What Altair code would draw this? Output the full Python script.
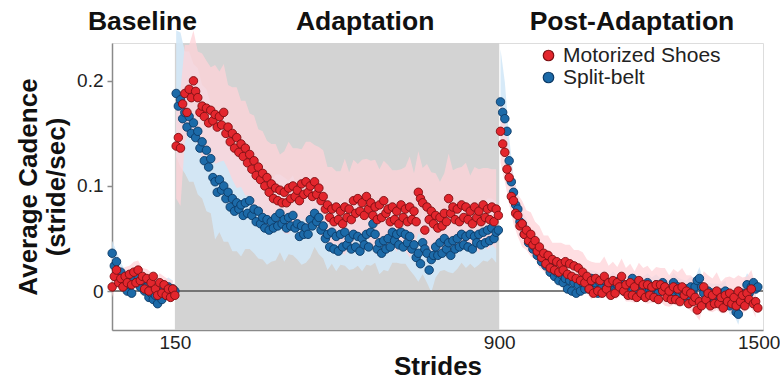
import altair as alt
import pandas as pd

FONT = "Liberation Sans"

# ---------------- data ----------------
series_names = ["Motorized Shoes", "Split-belt"]
fill_colors = ["#e3262d", "#1c6aa8"]
stroke_colors = ["#7d0f12", "#0c3a66"]
band_colors = ["#ffd3d8", "#d3e8f7"]

base_strides = list(range(5, 151, 5))      # 30 samples
adapt_strides = list(range(153, 899, 5))   # 150 samples
post_strides = list(range(903, 1499, 5))   # 120 samples

red_base = [0.004, 0.014, 0.020, 0.008, 0.012, 0.004, 0.014, 0.008, 0.016, 0.006,
            0.018, 0.008, 0.020, 0.010, 0.014, 0.002, 0.012, 0.000, 0.008, 0.014,
            0.002, -0.004, 0.008, -0.002, 0.006, -0.004, 0.002, -0.006, 0.002, -0.004]
blue_base = [0.036, 0.024, 0.028, 0.012, 0.018, 0.008, 0.012, 0.000, 0.006, -0.002,
             0.012, 0.008, 0.014, 0.004, 0.010, 0.000, 0.004, -0.006, -0.002, -0.008,
             -0.004, -0.012, -0.002, -0.008, 0.002, -0.004, 0.004, -0.004, 0.002, 0.000]

red_adapt = [0.138, 0.146, 0.136, 0.178, 0.188, 0.170, 0.192, 0.184, 0.200, 0.190,
             0.184, 0.170, 0.176, 0.166, 0.174, 0.160, 0.172, 0.162, 0.168, 0.156,
             0.166, 0.158, 0.170, 0.150, 0.156, 0.142, 0.150, 0.136, 0.146, 0.132,
             0.140, 0.128, 0.136, 0.122, 0.130, 0.116, 0.124, 0.110, 0.118, 0.106,
             0.112, 0.100, 0.108, 0.094, 0.102, 0.088, 0.098, 0.086, 0.096, 0.084,
             0.094, 0.084, 0.098, 0.088, 0.100, 0.090, 0.096, 0.086, 0.102, 0.092,
             0.104, 0.094, 0.100, 0.090, 0.104, 0.092, 0.098, 0.086, 0.090, 0.078,
             0.082, 0.070, 0.078, 0.066, 0.080, 0.068, 0.076, 0.064, 0.080, 0.070,
             0.078, 0.068, 0.086, 0.074, 0.088, 0.076, 0.084, 0.072, 0.090, 0.078,
             0.084, 0.072, 0.080, 0.068, 0.082, 0.070, 0.086, 0.074, 0.078, 0.066,
             0.080, 0.068, 0.076, 0.064, 0.082, 0.070, 0.078, 0.066, 0.080, 0.068,
             0.076, 0.066, 0.094, 0.088, 0.084, 0.058, 0.080, 0.068, 0.076, 0.064,
             0.072, 0.060, 0.070, 0.062, 0.074, 0.066, 0.088, 0.074, 0.080, 0.068,
             0.078, 0.066, 0.082, 0.070, 0.080, 0.068, 0.076, 0.064, 0.080, 0.070,
             0.076, 0.066, 0.082, 0.070, 0.078, 0.068, 0.080, 0.066, 0.078, 0.072]
blue_adapt = [0.188, 0.176, 0.182, 0.164, 0.170, 0.156, 0.166, 0.150, 0.160, 0.146,
              0.152, 0.136, 0.142, 0.124, 0.134, 0.118, 0.126, 0.108, 0.104, 0.094,
              0.106, 0.096, 0.100, 0.088, 0.094, 0.080, 0.088, 0.076, 0.084, 0.078,
              0.082, 0.072, 0.084, 0.074, 0.086, 0.072, 0.078, 0.066, 0.076, 0.064,
              0.070, 0.060, 0.068, 0.058, 0.066, 0.060, 0.070, 0.062, 0.074, 0.064,
              0.068, 0.060, 0.070, 0.062, 0.072, 0.060, 0.064, 0.052, 0.062, 0.054,
              0.060, 0.054, 0.068, 0.062, 0.074, 0.066, 0.070, 0.058, 0.062, 0.050,
              0.054, 0.042, 0.056, 0.040, 0.052, 0.038, 0.054, 0.042, 0.056, 0.044,
              0.050, 0.040, 0.054, 0.042, 0.052, 0.038, 0.050, 0.044, 0.054, 0.042,
              0.056, 0.064, 0.054, 0.040, 0.046, 0.036, 0.048, 0.040, 0.050, 0.042,
              0.056, 0.048, 0.054, 0.044, 0.056, 0.042, 0.054, 0.046, 0.052, 0.040,
              0.044, 0.032, 0.036, 0.026, 0.046, 0.040, 0.036, 0.020, 0.030, 0.034,
              0.042, 0.034, 0.046, 0.036, 0.050, 0.040, 0.046, 0.034, 0.048, 0.040,
              0.050, 0.042, 0.054, 0.044, 0.052, 0.042, 0.054, 0.040, 0.052, 0.046,
              0.054, 0.044, 0.056, 0.046, 0.058, 0.048, 0.060, 0.050, 0.056, 0.058]

red_post = [0.152, 0.140, 0.132, 0.116, 0.108, 0.090, 0.086, 0.074, 0.072, 0.062,
            0.064, 0.054, 0.058, 0.048, 0.054, 0.044, 0.048, 0.038, 0.042, 0.032,
            0.036, 0.026, 0.034, 0.022, 0.030, 0.020, 0.028, 0.018, 0.026, 0.020,
            0.028, 0.016, 0.026, 0.014, 0.024, 0.012, 0.022, 0.010, 0.018, 0.008,
            0.014, 0.002, 0.010, -0.002, 0.012, 0.000, 0.010, -0.002, 0.014, 0.002,
            0.008, -0.004, 0.010, -0.002, 0.008, 0.004, 0.014, 0.000, 0.006, -0.004,
            0.008, -0.004, 0.004, -0.006, 0.010, -0.002, 0.006, -0.006, 0.006, -0.004,
            0.004, -0.006, 0.006, -0.008, 0.006, 0.000, 0.004, -0.006, 0.000, -0.008,
            0.004, -0.008, 0.002, -0.010, 0.004, -0.004, 0.000, -0.012, -0.002, -0.010,
            -0.006, -0.018, -0.010, -0.014, 0.004, -0.008, -0.002, -0.014, -0.004, -0.012,
            0.000, -0.012, -0.006, -0.016, -0.004, -0.010, -0.002, -0.012, -0.006, -0.014,
            0.000, -0.010, -0.004, -0.014, -0.002, -0.008, 0.002, -0.012, -0.010, -0.016]
blue_post = [0.180, 0.170, 0.164, 0.152, 0.124, 0.104, 0.094, 0.082, 0.078, 0.066,
             0.064, 0.054, 0.056, 0.046, 0.048, 0.040, 0.042, 0.034, 0.036, 0.028,
             0.032, 0.024, 0.026, 0.018, 0.022, 0.014, 0.018, 0.010, 0.016, 0.008,
             0.012, 0.002, 0.010, 0.000, 0.008, -0.002, 0.006, 0.000, 0.008, 0.002,
             0.010, 0.002, 0.012, 0.004, 0.008, -0.002, 0.008, 0.004, 0.010, 0.002,
             0.006, -0.002, 0.008, 0.000, 0.006, 0.010, 0.008, 0.000, 0.004, -0.002,
             0.008, 0.012, 0.006, 0.000, 0.004, -0.004, 0.004, 0.000, 0.008, 0.002,
             0.002, -0.004, 0.006, -0.002, 0.004, 0.008, 0.004, -0.002, 0.000, -0.004,
             0.008, 0.002, 0.004, -0.004, 0.000, -0.006, 0.002, -0.004, 0.004, -0.002,
             0.004, 0.010, 0.012, 0.004, -0.002, -0.010, 0.000, -0.004, -0.002, -0.008,
             -0.004, -0.010, -0.002, -0.008, 0.000, -0.010, -0.014, -0.006, -0.012, -0.020,
             -0.022, -0.012, -0.002, -0.006, 0.006, -0.002, 0.004, 0.008, 0.002, 0.004]

# spread (half-width of shaded band), one value per 10 strides
red_sd_base = [0.010, 0.009, 0.008, 0.009, 0.008, 0.010, 0.009, 0.008, 0.009, 0.010,
               0.008, 0.009, 0.008, 0.009, 0.008]
blue_sd_base = [0.012, 0.010, 0.009, 0.008, 0.009, 0.008, 0.009, 0.010, 0.008, 0.009,
                0.008, 0.009, 0.008, 0.009, 0.008]
red_sd_adapt = [0.050, 0.055, 0.046, 0.042, 0.048, 0.044, 0.050, 0.045, 0.041, 0.047,
                0.043, 0.046, 0.040, 0.044, 0.048, 0.041, 0.045, 0.039, 0.043, 0.036,
                0.040, 0.035, 0.038, 0.042, 0.034, 0.039, 0.044, 0.036, 0.040, 0.033,
                0.038, 0.042, 0.035, 0.039, 0.044, 0.036, 0.040, 0.034, 0.038, 0.046,
                0.035, 0.039, 0.033, 0.041, 0.036, 0.040, 0.045, 0.034, 0.038, 0.042,
                0.035, 0.039, 0.034, 0.040, 0.048, 0.036, 0.039, 0.033, 0.041, 0.037,
                0.040, 0.034, 0.038, 0.043, 0.035, 0.039, 0.036, 0.042, 0.034, 0.038,
                0.040, 0.035, 0.039, 0.036, 0.038]
blue_sd_adapt = [0.060, 0.064, 0.058, 0.062, 0.056, 0.060, 0.054, 0.058, 0.052, 0.055,
                 0.050, 0.053, 0.047, 0.050, 0.046, 0.049, 0.044, 0.046, 0.042, 0.045,
                 0.040, 0.043, 0.038, 0.041, 0.037, 0.040, 0.035, 0.038, 0.034, 0.037,
                 0.033, 0.036, 0.032, 0.035, 0.031, 0.034, 0.030, 0.033, 0.029, 0.032,
                 0.030, 0.033, 0.028, 0.031, 0.029, 0.032, 0.027, 0.030, 0.028, 0.031,
                 0.029, 0.027, 0.030, 0.028, 0.032, 0.029, 0.027, 0.030, 0.028, 0.031,
                 0.029, 0.027, 0.030, 0.028, 0.031, 0.029, 0.027, 0.030, 0.028, 0.030,
                 0.029, 0.027, 0.030, 0.028, 0.029]
red_sd_post = [0.030, 0.028, 0.025, 0.022, 0.020, 0.022, 0.019, 0.021, 0.018, 0.020,
               0.017, 0.019, 0.016, 0.018, 0.020, 0.016, 0.018, 0.015, 0.017, 0.019,
               0.016, 0.018, 0.015, 0.017, 0.019, 0.016, 0.018, 0.015, 0.017, 0.016,
               0.018, 0.015, 0.017, 0.016, 0.018, 0.015, 0.017, 0.016, 0.018, 0.015,
               0.017, 0.016, 0.018, 0.015, 0.017, 0.016, 0.018, 0.015, 0.017, 0.016,
               0.018, 0.015, 0.017, 0.016, 0.018, 0.015, 0.017, 0.016, 0.018, 0.015]
blue_sd_post = [0.050, 0.035, 0.022, 0.016, 0.014, 0.012, 0.013, 0.011, 0.012, 0.010,
                0.009, 0.011, 0.008, 0.010, 0.009, 0.011, 0.008, 0.010, 0.009, 0.011,
                0.010, 0.008, 0.011, 0.009, 0.010, 0.008, 0.011, 0.009, 0.010, 0.008,
                0.009, 0.011, 0.008, 0.010, 0.009, 0.011, 0.010, 0.008, 0.009, 0.011,
                0.010, 0.009, 0.011, 0.008, 0.010, 0.009, 0.011, 0.010, 0.008, 0.009,
                0.011, 0.009, 0.010, 0.008, 0.011, 0.010, 0.009, 0.011, 0.008, 0.010]

phase_labels = ["Baseline", "Adaptation", "Post-Adaptation"]
phase_label_x = [75, 590, 1207]
adapt_start, adapt_end = 150, 900
x_ticks = [150, 900, 1500]
y_ticks = [0, 0.1, 0.2]

# --------------- tables ---------------
def points(name, phases):
    rows = []
    for phase, xs, ys in phases:
        for s, v in zip(xs, ys, strict=True):
            rows.append({"stride": s, "value": v, "series": name, "phase": phase})
    return rows

def bands(name, phases):
    rows = []
    for phase, xs, ys, sds in phases:
        for s, v, sd in zip(xs[::2], ys[::2], sds, strict=True):
            rows.append({"stride": s, "lo": v - sd, "hi": v + sd, "series": name, "phase": phase})
    return rows

pts = pd.DataFrame(
    points("Split-belt", [("b", base_strides, blue_base), ("a", adapt_strides, blue_adapt), ("p", post_strides, blue_post)])
    + points("Motorized Shoes", [("b", base_strides, red_base), ("a", adapt_strides, red_adapt), ("p", post_strides, red_post)])
)
blue_band = pd.DataFrame(bands("Split-belt", [
    ("b", base_strides, blue_base, blue_sd_base),
    ("a", adapt_strides, blue_adapt, blue_sd_adapt),
    ("p", post_strides, blue_post, blue_sd_post)]))
red_band = pd.DataFrame(bands("Motorized Shoes", [
    ("b", base_strides, red_base, red_sd_base),
    ("a", adapt_strides, red_adapt, red_sd_adapt),
    ("p", post_strides, red_post, red_sd_post)]))

W, H = 651, 287
xs = alt.Scale(domain=[4.6, 1510], nice=False, zero=False)
ys = alt.Scale(domain=[-0.037, 0.236], nice=False, zero=False)

shade = alt.Chart(pd.DataFrame({"s": [adapt_start], "e": [adapt_end]})).mark_rect(
    color="#d3d3d3").encode(
    x=alt.X("s:Q", scale=xs),
    x2="e:Q",
    y=alt.value(0),
    y2=alt.value(H),
)

blue_area = alt.Chart(blue_band).mark_area(color=band_colors[1], opacity=0.9).encode(
    x=alt.X("stride:Q", scale=xs),
    y=alt.Y("lo:Q", scale=ys),
    y2="hi:Q",
    detail="phase:N",
)
red_area = alt.Chart(red_band).mark_area(color=band_colors[0], opacity=0.75).encode(
    x=alt.X("stride:Q", scale=xs),
    y=alt.Y("lo:Q", scale=ys),
    y2="hi:Q",
    detail="phase:N",
)

zero = alt.Chart(pd.DataFrame({"z": [0]})).mark_rule(color="#555555", strokeWidth=1.5).encode(
    y=alt.Y("z:Q", scale=ys)
)

legend_cfg = dict(title=None, orient="none", legendX=426, legendY=2,
                  labelFontSize=21, labelFont=FONT, labelColor="#222222",
                  symbolSize=110, symbolStrokeWidth=1.2, rowPadding=0, labelOffset=4)

dots = alt.Chart(pts).mark_point(filled=True, size=72, strokeWidth=0.9, opacity=1).encode(
    x=alt.X("stride:Q", scale=xs,
            axis=alt.Axis(values=x_ticks, format="d", ticks=False, grid=False, labelFontSize=19,
                          labelColor="#222222", domainColor="#8a8a8a", domainWidth=1.5,
                          labelPadding=3, title="Strides", titleFontSize=26,
                          titleFontWeight="bold", titleColor="#111111", titlePadding=1,
                          labelFont=FONT, titleFont=FONT, labelFlush=False)),
    y=alt.Y("value:Q", scale=ys,
            axis=alt.Axis(values=y_ticks, format="~g", grid=False, labelFontSize=19,
                          labelColor="#222222", domainColor="#8a8a8a", domainWidth=1.5,
                          tickColor="#8a8a8a", tickWidth=1.5, tickSize=5, labelPadding=4,
                          title=["Average Cadence", "(stride/sec)"], titleFontSize=26,
                          titleFontWeight="bold", titleColor="#111111", titlePadding=7,
                          titleLineHeight=28, labelFont=FONT, titleFont=FONT)),
    fill=alt.Fill("series:N", scale=alt.Scale(domain=series_names, range=fill_colors),
                  legend=alt.Legend(**legend_cfg)),
    stroke=alt.Stroke("series:N", scale=alt.Scale(domain=series_names, range=stroke_colors),
                      legend=alt.Legend(**legend_cfg)),
    shape=alt.value("circle"),
)

titles = alt.Chart(pd.DataFrame({"label": phase_labels, "x": phase_label_x})).mark_text(
    fontSize=26.5, fontWeight="bold", font=FONT, color="#111111", baseline="middle", align="center"
).encode(
    x=alt.X("x:Q", scale=xs),
    y=alt.value(-21),
    text="label:N",
)

chart = alt.layer(shade, blue_area, red_area, zero, dots, titles).properties(
    width=W, height=H,
    autosize=alt.AutoSizeParams(type="none"),
    padding={"left": 112, "top": 43, "right": 17, "bottom": 49},
).configure_view(stroke=None).configure(font=FONT, background="white")

chart.save("out.html", embed_options={"renderer": "svg", "actions": False})
